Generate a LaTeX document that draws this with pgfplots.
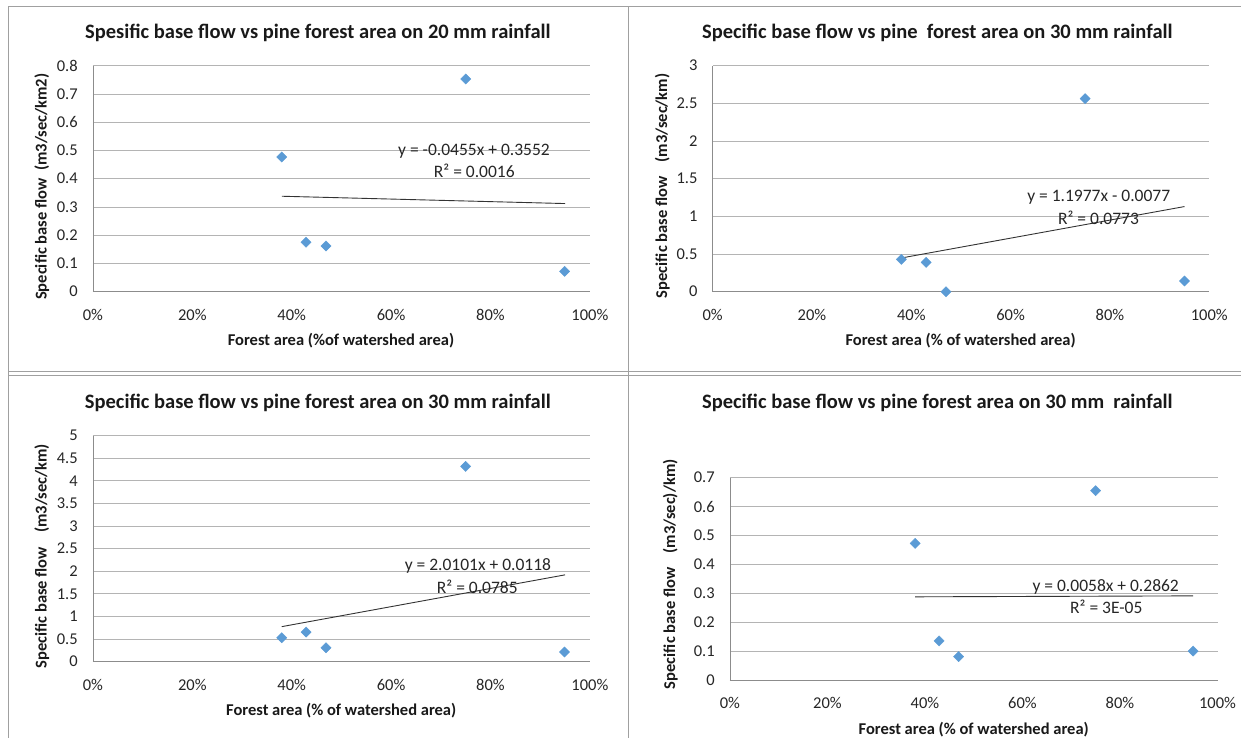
\documentclass[border=0pt]{standalone}
\usepackage{pgfplots}
\pgfplotsset{compat=1.18}
\usepackage{fontspec}
\setmainfont{Carlito}
\definecolor{mk}{HTML}{5B9BD5}
\definecolor{gridc}{HTML}{B4B4B4}
\definecolor{axc}{HTML}{8C8C8C}
\definecolor{brd}{HTML}{A0A0A0}
\pgfplotsset{
  panel/.style={
    scale only axis,
    anchor=south west,
    xmin=0, xmax=1,
    ymin=0,
    xtick={0,0.2,0.4,0.6,0.8,1},
    xticklabels={0\%,20\%,40\%,60\%,80\%,100\%},
    axis x line=bottom, axis y line=left,
    axis line style={axc, line width=0.8pt, -},
    ymajorgrids, grid style={gridc, line width=0.8pt},
    major tick length=0pt,
    tick label style={font=\fontsize{16.5}{18}\selectfont, text=black!85},
    /pgf/number format/assume math mode=true,
    xticklabel style={anchor=center, inner sep=0pt, yshift=-23pt},
    yticklabel style={anchor=east, inner sep=0pt, xshift=-15pt},
    clip=false,
  },
  pts/.style={only marks, mark=square*, mark size=3.6pt, mark options={rotate=45, fill=mk, draw=mk}},
  trend/.style={no marks, black!80, line width=0.9pt},
}
\tikzset{
  ttl/.style={font=\bfseries\fontsize{20.5}{24}\selectfont, text=black!90},
  lab/.style={font=\bfseries\fontsize{16.5}{20}\selectfont, text=black!90},
  eq/.style={font=\fontsize{17.5}{20}\selectfont, text=black!85},
}
\begin{document}
\begin{tikzpicture}
\useasboundingbox (0,0) rectangle (1241pt,738pt);
% panel borders
\draw[brd, line width=1pt] (8.3pt,0pt) -- (8.3pt,731.7pt) -- (1241pt,731.7pt);
\draw[brd, line width=1pt] (628.3pt,0pt) -- (628.3pt,731.7pt);
\draw[brd, line width=1pt] (8.3pt,366.3pt) -- (1241pt,366.3pt);
\draw[brd, line width=1pt] (8.3pt,362pt) -- (1241pt,362pt);

% Panel 1
\begin{axis}[panel, at={(92.9pt,446.3pt)}, width=497pt, height=226pt,
  ymax=0.8, ytick={0,0.1,0.2,0.3,0.4,0.5,0.6,0.7,0.8},
  yticklabels={0,0.1,0.2,0.3,0.4,0.5,0.6,0.7,0.8}]
\addplot[trend] coordinates {(0.38,0.3379) (0.95,0.3120)};
\addplot[pts] coordinates {(0.380,0.477) (0.429,0.175) (0.469,0.162) (0.750,0.753) (0.949,0.072)};
\end{axis}

% Panel 2
\begin{axis}[panel, at={(712.6pt,446.3pt)}, width=496.7pt, height=226pt,
  ymax=3, ytick={0,0.5,1,1.5,2,2.5,3},
  yticklabels={0,0.5,1,1.5,2,2.5,3}]
\addplot[trend] coordinates {(0.38,0.4474) (0.95,1.1301)};
\addplot[pts] coordinates {(0.380,0.429) (0.430,0.389) (0.470,0.0) (0.750,2.562) (0.950,0.142)};
\end{axis}

% Panel 3
\begin{axis}[panel, at={(92.9pt,76.3pt)}, width=497pt, height=226pt,
  ymax=5, ytick={0,0.5,1,1.5,2,2.5,3,3.5,4,4.5,5},
  yticklabels={0,0.5,1,1.5,2,2.5,3,3.5,4,4.5,5}]
\addplot[trend] coordinates {(0.38,0.7756) (0.95,1.9214)};
\addplot[pts] coordinates {(0.380,0.531) (0.429,0.656) (0.469,0.310) (0.750,4.32) (0.949,0.214)};
\end{axis}

% Panel 4
\begin{axis}[panel, at={(729.9pt,57.7pt)}, width=487.6pt, height=202.6pt,
  ymax=0.7, ytick={0,0.1,0.2,0.3,0.4,0.5,0.6,0.7},
  yticklabels={0,0.1,0.2,0.3,0.4,0.5,0.6,0.7}]
\addplot[trend] coordinates {(0.38,0.2884) (0.95,0.2917)};
\addplot[pts] coordinates {(0.380,0.473) (0.429,0.136) (0.469,0.082) (0.750,0.655) (0.950,0.101)};
\end{axis}

% titles
\node[ttl] at (317.9pt,704.7pt) {Spesific base flow vs pine forest area on 20 mm rainfall};
\node[ttl] at (937.4pt,704.7pt) {Specific base flow vs pine\ \ forest area on 30 mm rainfall};
\node[ttl] at (317.9pt,334.7pt) {Specific base flow vs pine forest area on 30 mm rainfall};
\node[ttl] at (937.4pt,334.7pt) {Specific base flow vs pine forest area on 30 mm\ \ rainfall};
% x labels
\node[lab] at (341pt,397.3pt) {Forest area (\%of watershed area)};
\node[lab] at (960.6pt,397.3pt) {Forest area (\% of watershed area)};
\node[lab] at (341.2pt,27.3pt) {Forest area (\% of watershed area)};
\node[lab] at (973.7pt,8.7pt) {Forest area (\% of watershed area)};
% y labels
\node[lab, rotate=90] at (41.8pt,551.3pt) {Specific base flow\ \ (m3/sec/km2)};
\node[lab, rotate=90] at (662.3pt,552.2pt) {Specific base flow\hspace{14pt}(m3/sec/km)};
\node[lab, rotate=90] at (41.8pt,181.8pt) {Specific base flow\hspace{14pt}(m3/sec/km)};
\node[lab, rotate=90] at (670.2pt,163.8pt) {Specific base flow\hspace{14pt}(m3/sec)/km)};
% equations
\node[eq] at (474pt,587pt) {y = -0.0455x + 0.3552};
\node[eq] at (474.3pt,567.3pt) {R² = 0.0016};
\node[eq] at (1098.7pt,540.3pt) {y = 1.1977x - 0.0077};
\node[eq] at (1098.5pt,519.7pt) {R² = 0.0773};
\node[eq] at (477.9pt,172pt) {y = 2.0101x + 0.0118};
\node[eq] at (477.3pt,151.3pt) {R² = 0.0785};
\node[eq] at (1105.7pt,151.3pt) {y = 0.0058x + 0.2862};
\node[eq] at (1106.3pt,131.3pt) {R² = 3E-05};
\end{tikzpicture}
\end{document}
